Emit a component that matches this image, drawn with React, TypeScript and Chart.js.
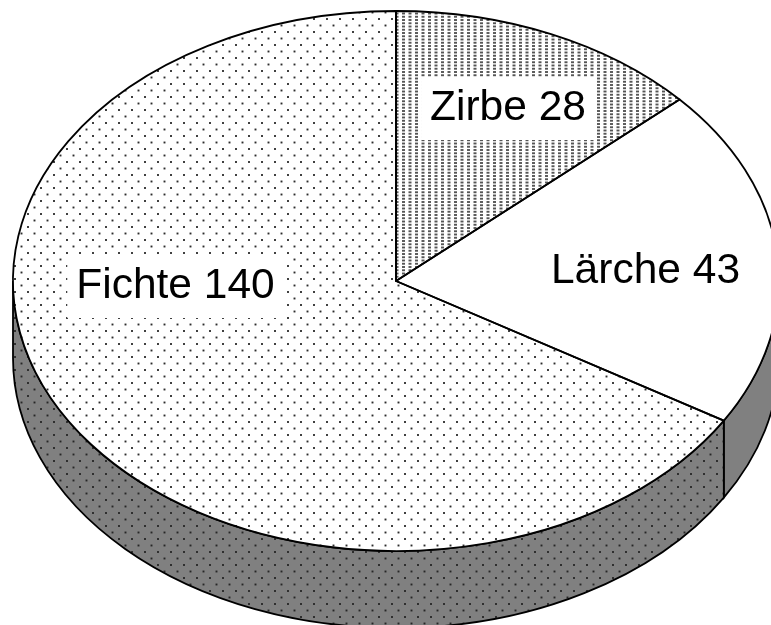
import React, { useEffect, useRef } from "react";
import { Chart, registerables } from "chart.js";

Chart.register(...registerables);

const categories = ["Zirbe", "Lärche", "Fichte"];
const amounts = [28, 43, 140];

// Text anchors of the white label boxes: centre x and baseline y in page pixels
const labelAnchors = [
  { x: 508, y: 120 },
  { x: 645.5, y: 283 },
  { x: 175.5, y: 298 },
];

const CENTER_X = 396;
const CENTER_Y = 281;
const RADIUS_X = 383;
const RADIUS_Y = 270;
const DEPTH = 77;
const TILE = 13;
const LINE = 1.8;

function tile(bg: string, dots: [number, number][], w: number, h: number, color: string) {
  const c = document.createElement("canvas");
  c.width = TILE;
  c.height = TILE;
  const g = c.getContext("2d")!;
  g.fillStyle = bg;
  g.fillRect(0, 0, TILE, TILE);
  g.fillStyle = color;
  for (const [x, y] of dots) {
    for (const ox of [-TILE, 0, TILE]) {
      for (const oy of [-TILE, 0, TILE]) {
        g.fillRect(x + ox - w / 2, y + oy - h / 2, w, h);
      }
    }
  }
  return g.createPattern(c, "repeat")!;
}

const SPARSE: [number, number][] = [
  [8.5, 12.5],
  [2, 6],
];
const DENSE: [number, number][] = [
  [0.5, 0.5], [7, 0.5],
  [0.5, 3.75], [7, 3.75],
  [0.5, 7], [7, 7],
  [0.5, 10.25], [7, 10.25],
];

export default function App() {
  const ref = useRef<HTMLCanvasElement>(null);
  useEffect(() => {
    const k = RADIUS_Y / RADIUS_X;
    const fichte = tile("#ffffff", SPARSE, 1.9, 1.9, "#2c2c2c");
    const zirbe = tile("#ffffff", DENSE, 3, 1.9, "#555555");
    const wallDots = tile("#808080", SPARSE, 1.9, 1.9, "#262626");
    const toPage = new DOMMatrix()
      .translate(CENTER_X, CENTER_Y)
      .scale(1, k)
      .translate(-CENTER_X, -CENTER_Y);
    const inverse = toPage.inverse();
    fichte.setTransform(inverse);
    zirbe.setTransform(inverse);

    const tilt = {
      id: "tilt",
      beforeDatasetsDraw(chart: any) {
        const ctx = chart.ctx;
        const arcs = chart.getDatasetMeta(0).data;
        ctx.save();
        ctx.lineWidth = LINE;
        ctx.strokeStyle = "#000";
        arcs.forEach((arc: any, i: number) => {
          const a0 = Math.max(arc.startAngle, 0);
          const a1 = Math.min(arc.endAngle, Math.PI);
          if (a1 <= a0) return;
          ctx.beginPath();
          ctx.ellipse(CENTER_X, CENTER_Y, RADIUS_X, RADIUS_Y, 0, a0, a1);
          ctx.ellipse(CENTER_X, CENTER_Y + DEPTH, RADIUS_X, RADIUS_Y, 0, a1, a0, true);
          ctx.closePath();
          ctx.fillStyle = categories[i] === "Fichte" ? wallDots : "#808080";
          ctx.fill();
          ctx.stroke();
        });
        ctx.restore();
        ctx.save();
        ctx.setTransform(ctx.getTransform().multiply(toPage));
      },
      afterDatasetsDraw(chart: any) {
        const ctx = chart.ctx;
        ctx.restore();
        const arcs = chart.getDatasetMeta(0).data;
        ctx.save();
        ctx.lineWidth = LINE;
        ctx.strokeStyle = "#000";
        ctx.lineJoin = "round";
        arcs.forEach((arc: any) => {
          ctx.beginPath();
          ctx.moveTo(CENTER_X, CENTER_Y);
          ctx.ellipse(CENTER_X, CENTER_Y, RADIUS_X, RADIUS_Y, 0, arc.startAngle, arc.endAngle);
          ctx.closePath();
          ctx.stroke();
        });
        ctx.font = '42.5px "Liberation Sans", Arial, sans-serif';
        ctx.textAlign = "center";
        ctx.textBaseline = "alphabetic";
        categories.forEach((name, i) => {
          const text = `${name} ${amounts[i]}`;
          const w = ctx.measureText(text).width;
          const { x, y } = labelAnchors[i];
          ctx.fillStyle = "#ffffff";
          ctx.fillRect(x - w / 2 - 9, y - 43, w + 18, 63);
          ctx.fillStyle = "#000000";
          ctx.fillText(text, x, y);
        });
        ctx.restore();
      },
    };

    const chart = new Chart(ref.current!, {
      type: "pie",
      data: {
        labels: categories,
        datasets: [
          {
            data: amounts,
            backgroundColor: [zirbe, "#ffffff", fichte],
            borderWidth: 0,
            clip: false,
          } as any,
        ],
      },
      options: {
        responsive: false,
        animation: false,
        radius: RADIUS_X,
        layout: {
          padding: {
            left: 2 * CENTER_X - 771,
            bottom: 625 - 2 * CENTER_Y,
          },
        },
        plugins: {
          legend: { display: false },
          tooltip: { enabled: false },
          title: { display: false },
        },
      } as any,
      plugins: [tilt],
    });
    return () => chart.destroy();
  }, []);
  return (
    <div style={{ position: "fixed", left: 0, top: 0, width: 771, height: 625, background: "#fff" }}>
      <canvas ref={ref} width={771} height={625} style={{ display: "block" }} />
    </div>
  );
}
